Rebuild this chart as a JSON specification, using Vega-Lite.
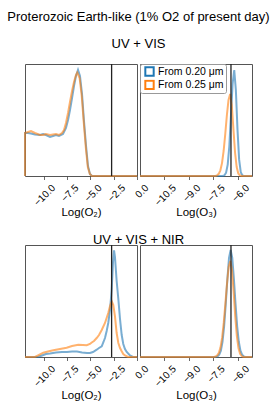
{
  "$schema": "https://vega.github.io/schema/vega-lite/v6.json",
  "background": "white",
  "padding": {"left": 7, "top": 10, "right": 5, "bottom": 2},
  "title": {"text": "Proterozoic Earth-like (1% O2 of present day)", "fontSize": 13, "font": "Liberation Sans", "fontWeight": "normal", "color": "#000", "anchor": "middle", "baseline": "alphabetic", "offset": 4},
  "datasets": {
    "curves": [
      {"panel": "A", "series": "From 0.20 μm", "i": 0, "x": -12.0, "y": 0},
      {"panel": "A", "series": "From 0.20 μm", "i": 1, "x": -12.0, "y": 43},
      {"panel": "A", "series": "From 0.20 μm", "i": 2, "x": -11.68, "y": 43},
      {"panel": "A", "series": "From 0.20 μm", "i": 3, "x": -11.36, "y": 42.5},
      {"panel": "A", "series": "From 0.20 μm", "i": 4, "x": -10.93, "y": 41.5},
      {"panel": "A", "series": "From 0.20 μm", "i": 5, "x": -10.39, "y": 41},
      {"panel": "A", "series": "From 0.20 μm", "i": 6, "x": -10.07, "y": 42},
      {"panel": "A", "series": "From 0.20 μm", "i": 7, "x": -9.75, "y": 41},
      {"panel": "A", "series": "From 0.20 μm", "i": 8, "x": -9.32, "y": 39},
      {"panel": "A", "series": "From 0.20 μm", "i": 9, "x": -9.0, "y": 40},
      {"panel": "A", "series": "From 0.20 μm", "i": 10, "x": -8.68, "y": 41},
      {"panel": "A", "series": "From 0.20 μm", "i": 11, "x": -8.36, "y": 40},
      {"panel": "A", "series": "From 0.20 μm", "i": 12, "x": -7.93, "y": 42},
      {"panel": "A", "series": "From 0.20 μm", "i": 13, "x": -7.61, "y": 48},
      {"panel": "A", "series": "From 0.20 μm", "i": 14, "x": -7.39, "y": 56},
      {"panel": "A", "series": "From 0.20 μm", "i": 15, "x": -7.18, "y": 66},
      {"panel": "A", "series": "From 0.20 μm", "i": 16, "x": -6.96, "y": 78},
      {"panel": "A", "series": "From 0.20 μm", "i": 17, "x": -6.75, "y": 90},
      {"panel": "A", "series": "From 0.20 μm", "i": 18, "x": -6.54, "y": 100},
      {"panel": "A", "series": "From 0.20 μm", "i": 19, "x": -6.32, "y": 106},
      {"panel": "A", "series": "From 0.20 μm", "i": 20, "x": -6.11, "y": 100},
      {"panel": "A", "series": "From 0.20 μm", "i": 21, "x": -5.89, "y": 82},
      {"panel": "A", "series": "From 0.20 μm", "i": 22, "x": -5.68, "y": 55},
      {"panel": "A", "series": "From 0.20 μm", "i": 23, "x": -5.46, "y": 30},
      {"panel": "A", "series": "From 0.20 μm", "i": 24, "x": -5.25, "y": 10},
      {"panel": "A", "series": "From 0.20 μm", "i": 25, "x": -5.04, "y": 2},
      {"panel": "A", "series": "From 0.20 μm", "i": 26, "x": -4.82, "y": 0},
      {"panel": "A", "series": "From 0.20 μm", "i": 27, "x": 0.0, "y": 0},
      {"panel": "A", "series": "From 0.25 μm", "i": 0, "x": -12.0, "y": 0},
      {"panel": "A", "series": "From 0.25 μm", "i": 1, "x": -12.0, "y": 43},
      {"panel": "A", "series": "From 0.25 μm", "i": 2, "x": -11.68, "y": 44},
      {"panel": "A", "series": "From 0.25 μm", "i": 3, "x": -11.36, "y": 45},
      {"panel": "A", "series": "From 0.25 μm", "i": 4, "x": -10.93, "y": 43},
      {"panel": "A", "series": "From 0.25 μm", "i": 5, "x": -10.39, "y": 41},
      {"panel": "A", "series": "From 0.25 μm", "i": 6, "x": -10.07, "y": 41},
      {"panel": "A", "series": "From 0.25 μm", "i": 7, "x": -9.75, "y": 42},
      {"panel": "A", "series": "From 0.25 μm", "i": 8, "x": -9.32, "y": 41},
      {"panel": "A", "series": "From 0.25 μm", "i": 9, "x": -9.0, "y": 41.5},
      {"panel": "A", "series": "From 0.25 μm", "i": 10, "x": -8.68, "y": 42},
      {"panel": "A", "series": "From 0.25 μm", "i": 11, "x": -8.36, "y": 41},
      {"panel": "A", "series": "From 0.25 μm", "i": 12, "x": -8.04, "y": 43},
      {"panel": "A", "series": "From 0.25 μm", "i": 13, "x": -7.82, "y": 46},
      {"panel": "A", "series": "From 0.25 μm", "i": 14, "x": -7.61, "y": 53},
      {"panel": "A", "series": "From 0.25 μm", "i": 15, "x": -7.39, "y": 63},
      {"panel": "A", "series": "From 0.25 μm", "i": 16, "x": -7.18, "y": 74},
      {"panel": "A", "series": "From 0.25 μm", "i": 17, "x": -6.96, "y": 85},
      {"panel": "A", "series": "From 0.25 μm", "i": 18, "x": -6.75, "y": 94},
      {"panel": "A", "series": "From 0.25 μm", "i": 19, "x": -6.54, "y": 101},
      {"panel": "A", "series": "From 0.25 μm", "i": 20, "x": -6.4, "y": 103.5},
      {"panel": "A", "series": "From 0.25 μm", "i": 21, "x": -6.15, "y": 98},
      {"panel": "A", "series": "From 0.25 μm", "i": 22, "x": -5.92, "y": 80},
      {"panel": "A", "series": "From 0.25 μm", "i": 23, "x": -5.7, "y": 53},
      {"panel": "A", "series": "From 0.25 μm", "i": 24, "x": -5.48, "y": 28},
      {"panel": "A", "series": "From 0.25 μm", "i": 25, "x": -5.27, "y": 9},
      {"panel": "A", "series": "From 0.25 μm", "i": 26, "x": -5.05, "y": 2},
      {"panel": "A", "series": "From 0.25 μm", "i": 27, "x": -4.84, "y": 0},
      {"panel": "A", "series": "From 0.25 μm", "i": 28, "x": 0.0, "y": 0},

      {"panel": "B", "series": "From 0.20 μm", "i": 0, "x": -12.0, "y": 0},
      {"panel": "B", "series": "From 0.20 μm", "i": 1, "x": -6.92, "y": 0},
      {"panel": "B", "series": "From 0.20 μm", "i": 2, "x": -6.82, "y": 0.7},
      {"panel": "B", "series": "From 0.20 μm", "i": 3, "x": -6.72, "y": 3.3},
      {"panel": "B", "series": "From 0.20 μm", "i": 4, "x": -6.62, "y": 11.4},
      {"panel": "B", "series": "From 0.20 μm", "i": 5, "x": -6.52, "y": 30},
      {"panel": "B", "series": "From 0.20 μm", "i": 6, "x": -6.42, "y": 61},
      {"panel": "B", "series": "From 0.20 μm", "i": 7, "x": -6.32, "y": 92},
      {"panel": "B", "series": "From 0.20 μm", "i": 8, "x": -6.22, "y": 106},
      {"panel": "B", "series": "From 0.20 μm", "i": 9, "x": -6.12, "y": 86},
      {"panel": "B", "series": "From 0.20 μm", "i": 10, "x": -6.02, "y": 46.6},
      {"panel": "B", "series": "From 0.20 μm", "i": 11, "x": -5.92, "y": 16.6},
      {"panel": "B", "series": "From 0.20 μm", "i": 12, "x": -5.82, "y": 3.9},
      {"panel": "B", "series": "From 0.20 μm", "i": 13, "x": -5.72, "y": 0.6},
      {"panel": "B", "series": "From 0.20 μm", "i": 14, "x": -5.62, "y": 0},
      {"panel": "B", "series": "From 0.20 μm", "i": 15, "x": -5.13, "y": 0},
      {"panel": "B", "series": "From 0.25 μm", "i": 0, "x": -12.0, "y": 0},
      {"panel": "B", "series": "From 0.25 μm", "i": 1, "x": -7.37, "y": 0},
      {"panel": "B", "series": "From 0.25 μm", "i": 2, "x": -7.27, "y": 0.7},
      {"panel": "B", "series": "From 0.25 μm", "i": 3, "x": -7.17, "y": 2.2},
      {"panel": "B", "series": "From 0.25 μm", "i": 4, "x": -7.07, "y": 5.7},
      {"panel": "B", "series": "From 0.25 μm", "i": 5, "x": -6.97, "y": 12.9},
      {"panel": "B", "series": "From 0.25 μm", "i": 6, "x": -6.87, "y": 25},
      {"panel": "B", "series": "From 0.25 μm", "i": 7, "x": -6.77, "y": 42},
      {"panel": "B", "series": "From 0.25 μm", "i": 8, "x": -6.67, "y": 61},
      {"panel": "B", "series": "From 0.25 μm", "i": 9, "x": -6.57, "y": 76},
      {"panel": "B", "series": "From 0.25 μm", "i": 10, "x": -6.47, "y": 82},
      {"panel": "B", "series": "From 0.25 μm", "i": 11, "x": -6.37, "y": 71},
      {"panel": "B", "series": "From 0.25 μm", "i": 12, "x": -6.27, "y": 47},
      {"panel": "B", "series": "From 0.25 μm", "i": 13, "x": -6.17, "y": 23.5},
      {"panel": "B", "series": "From 0.25 μm", "i": 14, "x": -6.07, "y": 8.9},
      {"panel": "B", "series": "From 0.25 μm", "i": 15, "x": -5.97, "y": 2.5},
      {"panel": "B", "series": "From 0.25 μm", "i": 16, "x": -5.87, "y": 0.5},
      {"panel": "B", "series": "From 0.25 μm", "i": 17, "x": -5.77, "y": 0},
      {"panel": "B", "series": "From 0.25 μm", "i": 18, "x": -5.13, "y": 0},

      {"panel": "C", "series": "From 0.20 μm", "i": 0, "x": -12.0, "y": 0},
      {"panel": "C", "series": "From 0.20 μm", "i": 1, "x": -10.61, "y": 0},
      {"panel": "C", "series": "From 0.20 μm", "i": 2, "x": -10.18, "y": 1.5},
      {"panel": "C", "series": "From 0.20 μm", "i": 3, "x": -9.75, "y": 3},
      {"panel": "C", "series": "From 0.20 μm", "i": 4, "x": -9.32, "y": 3.5},
      {"panel": "C", "series": "From 0.20 μm", "i": 5, "x": -8.68, "y": 4.5},
      {"panel": "C", "series": "From 0.20 μm", "i": 6, "x": -8.04, "y": 5},
      {"panel": "C", "series": "From 0.20 μm", "i": 7, "x": -7.5, "y": 5},
      {"panel": "C", "series": "From 0.20 μm", "i": 8, "x": -6.96, "y": 5.5},
      {"panel": "C", "series": "From 0.20 μm", "i": 9, "x": -6.43, "y": 5.5},
      {"panel": "C", "series": "From 0.20 μm", "i": 10, "x": -5.89, "y": 4.5},
      {"panel": "C", "series": "From 0.20 μm", "i": 11, "x": -5.36, "y": 4},
      {"panel": "C", "series": "From 0.20 μm", "i": 12, "x": -5.04, "y": 4},
      {"panel": "C", "series": "From 0.20 μm", "i": 13, "x": -4.71, "y": 5},
      {"panel": "C", "series": "From 0.20 μm", "i": 14, "x": -4.32, "y": 7.3},
      {"panel": "C", "series": "From 0.20 μm", "i": 15, "x": -4.07, "y": 9},
      {"panel": "C", "series": "From 0.20 μm", "i": 16, "x": -3.78, "y": 10.7},
      {"panel": "C", "series": "From 0.20 μm", "i": 17, "x": -3.59, "y": 15},
      {"panel": "C", "series": "From 0.20 μm", "i": 18, "x": -3.43, "y": 19},
      {"panel": "C", "series": "From 0.20 μm", "i": 19, "x": -3.25, "y": 26},
      {"panel": "C", "series": "From 0.20 μm", "i": 20, "x": -3.08, "y": 34},
      {"panel": "C", "series": "From 0.20 μm", "i": 21, "x": -2.89, "y": 47},
      {"panel": "C", "series": "From 0.20 μm", "i": 22, "x": -2.71, "y": 68},
      {"panel": "C", "series": "From 0.20 μm", "i": 23, "x": -2.57, "y": 95},
      {"panel": "C", "series": "From 0.20 μm", "i": 24, "x": -2.46, "y": 106.7},
      {"panel": "C", "series": "From 0.20 μm", "i": 25, "x": -2.36, "y": 100},
      {"panel": "C", "series": "From 0.20 μm", "i": 26, "x": -2.18, "y": 76},
      {"panel": "C", "series": "From 0.20 μm", "i": 27, "x": -2.0, "y": 58},
      {"panel": "C", "series": "From 0.20 μm", "i": 28, "x": -1.82, "y": 38},
      {"panel": "C", "series": "From 0.20 μm", "i": 29, "x": -1.64, "y": 22},
      {"panel": "C", "series": "From 0.20 μm", "i": 30, "x": -1.47, "y": 13},
      {"panel": "C", "series": "From 0.20 μm", "i": 31, "x": -1.29, "y": 8},
      {"panel": "C", "series": "From 0.20 μm", "i": 32, "x": -1.1, "y": 5},
      {"panel": "C", "series": "From 0.20 μm", "i": 33, "x": -0.75, "y": 1.5},
      {"panel": "C", "series": "From 0.20 μm", "i": 34, "x": -0.43, "y": 0},
      {"panel": "C", "series": "From 0.20 μm", "i": 35, "x": 0.0, "y": 0},
      {"panel": "C", "series": "From 0.25 μm", "i": 0, "x": -12.0, "y": 0},
      {"panel": "C", "series": "From 0.25 μm", "i": 1, "x": -10.93, "y": 0},
      {"panel": "C", "series": "From 0.25 μm", "i": 2, "x": -10.61, "y": 1.5},
      {"panel": "C", "series": "From 0.25 μm", "i": 3, "x": -10.04, "y": 4.3},
      {"panel": "C", "series": "From 0.25 μm", "i": 4, "x": -9.54, "y": 5.5},
      {"panel": "C", "series": "From 0.25 μm", "i": 5, "x": -8.97, "y": 6.7},
      {"panel": "C", "series": "From 0.25 μm", "i": 6, "x": -8.25, "y": 8},
      {"panel": "C", "series": "From 0.25 μm", "i": 7, "x": -7.54, "y": 9.3},
      {"panel": "C", "series": "From 0.25 μm", "i": 8, "x": -6.96, "y": 11},
      {"panel": "C", "series": "From 0.25 μm", "i": 9, "x": -6.29, "y": 12.3},
      {"panel": "C", "series": "From 0.25 μm", "i": 10, "x": -5.79, "y": 12},
      {"panel": "C", "series": "From 0.25 μm", "i": 11, "x": -5.39, "y": 11.7},
      {"panel": "C", "series": "From 0.25 μm", "i": 12, "x": -5.04, "y": 13},
      {"panel": "C", "series": "From 0.25 μm", "i": 13, "x": -4.85, "y": 14.5},
      {"panel": "C", "series": "From 0.25 μm", "i": 14, "x": -4.61, "y": 16},
      {"panel": "C", "series": "From 0.25 μm", "i": 15, "x": -4.32, "y": 19},
      {"panel": "C", "series": "From 0.25 μm", "i": 16, "x": -4.07, "y": 22},
      {"panel": "C", "series": "From 0.25 μm", "i": 17, "x": -3.78, "y": 27},
      {"panel": "C", "series": "From 0.25 μm", "i": 18, "x": -3.43, "y": 34},
      {"panel": "C", "series": "From 0.25 μm", "i": 19, "x": -3.08, "y": 44},
      {"panel": "C", "series": "From 0.25 μm", "i": 20, "x": -2.89, "y": 51},
      {"panel": "C", "series": "From 0.25 μm", "i": 21, "x": -2.71, "y": 55.7},
      {"panel": "C", "series": "From 0.25 μm", "i": 22, "x": -2.54, "y": 52},
      {"panel": "C", "series": "From 0.25 μm", "i": 23, "x": -2.36, "y": 40.7},
      {"panel": "C", "series": "From 0.25 μm", "i": 24, "x": -2.18, "y": 24},
      {"panel": "C", "series": "From 0.25 μm", "i": 25, "x": -2.0, "y": 14},
      {"panel": "C", "series": "From 0.25 μm", "i": 26, "x": -1.82, "y": 9},
      {"panel": "C", "series": "From 0.25 μm", "i": 27, "x": -1.64, "y": 5.7},
      {"panel": "C", "series": "From 0.25 μm", "i": 28, "x": -1.47, "y": 3},
      {"panel": "C", "series": "From 0.25 μm", "i": 29, "x": -1.29, "y": 1.5},
      {"panel": "C", "series": "From 0.25 μm", "i": 30, "x": -0.96, "y": 0},
      {"panel": "C", "series": "From 0.25 μm", "i": 31, "x": 0.0, "y": 0},

      {"panel": "D", "series": "From 0.20 μm", "i": 0, "x": -12.0, "y": 0},
      {"panel": "D", "series": "From 0.20 μm", "i": 1, "x": -7.34, "y": 0},
      {"panel": "D", "series": "From 0.20 μm", "i": 2, "x": -7.24, "y": 0.7},
      {"panel": "D", "series": "From 0.20 μm", "i": 3, "x": -7.14, "y": 2.3},
      {"panel": "D", "series": "From 0.20 μm", "i": 4, "x": -7.04, "y": 6.4},
      {"panel": "D", "series": "From 0.20 μm", "i": 5, "x": -6.94, "y": 15.2},
      {"panel": "D", "series": "From 0.20 μm", "i": 6, "x": -6.84, "y": 30.7},
      {"panel": "D", "series": "From 0.20 μm", "i": 7, "x": -6.74, "y": 53},
      {"panel": "D", "series": "From 0.20 μm", "i": 8, "x": -6.64, "y": 78},
      {"panel": "D", "series": "From 0.20 μm", "i": 9, "x": -6.54, "y": 99},
      {"panel": "D", "series": "From 0.20 μm", "i": 10, "x": -6.44, "y": 107},
      {"panel": "D", "series": "From 0.20 μm", "i": 11, "x": -6.34, "y": 99},
      {"panel": "D", "series": "From 0.20 μm", "i": 12, "x": -6.24, "y": 78},
      {"panel": "D", "series": "From 0.20 μm", "i": 13, "x": -6.14, "y": 53},
      {"panel": "D", "series": "From 0.20 μm", "i": 14, "x": -6.04, "y": 30.7},
      {"panel": "D", "series": "From 0.20 μm", "i": 15, "x": -5.94, "y": 15.2},
      {"panel": "D", "series": "From 0.20 μm", "i": 16, "x": -5.84, "y": 6.4},
      {"panel": "D", "series": "From 0.20 μm", "i": 17, "x": -5.74, "y": 2.3},
      {"panel": "D", "series": "From 0.20 μm", "i": 18, "x": -5.64, "y": 0.7},
      {"panel": "D", "series": "From 0.20 μm", "i": 19, "x": -5.54, "y": 0},
      {"panel": "D", "series": "From 0.20 μm", "i": 20, "x": -5.13, "y": 0},
      {"panel": "D", "series": "From 0.25 μm", "i": 0, "x": -12.0, "y": 0},
      {"panel": "D", "series": "From 0.25 μm", "i": 1, "x": -7.46, "y": 0},
      {"panel": "D", "series": "From 0.25 μm", "i": 2, "x": -7.36, "y": 0.5},
      {"panel": "D", "series": "From 0.25 μm", "i": 3, "x": -7.26, "y": 1.6},
      {"panel": "D", "series": "From 0.25 μm", "i": 4, "x": -7.16, "y": 4.2},
      {"panel": "D", "series": "From 0.25 μm", "i": 5, "x": -7.06, "y": 9.7},
      {"panel": "D", "series": "From 0.25 μm", "i": 6, "x": -6.96, "y": 19.6},
      {"panel": "D", "series": "From 0.25 μm", "i": 7, "x": -6.86, "y": 34.6},
      {"panel": "D", "series": "From 0.25 μm", "i": 8, "x": -6.76, "y": 54},
      {"panel": "D", "series": "From 0.25 μm", "i": 9, "x": -6.66, "y": 74},
      {"panel": "D", "series": "From 0.25 μm", "i": 10, "x": -6.56, "y": 90},
      {"panel": "D", "series": "From 0.25 μm", "i": 11, "x": -6.46, "y": 96},
      {"panel": "D", "series": "From 0.25 μm", "i": 12, "x": -6.36, "y": 87},
      {"panel": "D", "series": "From 0.25 μm", "i": 13, "x": -6.26, "y": 66},
      {"panel": "D", "series": "From 0.25 μm", "i": 14, "x": -6.16, "y": 41},
      {"panel": "D", "series": "From 0.25 μm", "i": 15, "x": -6.06, "y": 21},
      {"panel": "D", "series": "From 0.25 μm", "i": 16, "x": -5.96, "y": 9},
      {"panel": "D", "series": "From 0.25 μm", "i": 17, "x": -5.86, "y": 3.2},
      {"panel": "D", "series": "From 0.25 μm", "i": 18, "x": -5.76, "y": 0.9},
      {"panel": "D", "series": "From 0.25 μm", "i": 19, "x": -5.66, "y": 0},
      {"panel": "D", "series": "From 0.25 μm", "i": 20, "x": -5.13, "y": 0}
    ],
    "truths": [
      {"panel": "A", "truth": -2.72},
      {"panel": "B", "truth": -6.42},
      {"panel": "C", "truth": -2.72},
      {"panel": "D", "truth": -6.42}
    ]
  },
  "vconcat": [
    {
      "title": {"text": "UV + VIS", "fontSize": 13, "font": "Liberation Sans", "fontWeight": "normal", "color": "#000", "anchor": "middle", "baseline": "alphabetic", "offset": 2},
      "spacing": 3,
      "bounds": "flush",
      "resolve": {"scale": {"color": "independent"}, "legend": {"color": "independent"}},
      "hconcat": [
        {
          "width": 112, "height": 112,
          "layer": [
            {"data": {"name": "curves"}, "transform": [{"filter": "datum.panel === 'A'"}],
             "mark": {"type": "line", "strokeWidth": 2, "opacity": 0.6},
             "encoding": {
               "x": {"field": "x", "type": "quantitative", "scale": {"domain": [-12, 0], "nice": false, "zero": false}, "axis": {"title": "Log(O₂)", "values": [-10, -7.5, -5, -2.5, 0], "tickCount": 20, "labelOverlap": false, "labelAngle": -45, "labelAlign": "right", "labelBaseline": "top", "labelOffset": 6, "labelPadding": 3, "format": ".1f", "titlePadding": -1}},
               "y": {"field": "y", "type": "quantitative", "scale": {"domain": [0, 112], "nice": false}, "axis": null},
               "color": {"field": "series", "type": "nominal", "scale": {"domain": ["From 0.20 μm", "From 0.25 μm"], "range": ["#1f77b4", "#ff7f0e"]}, "legend": null},
               "order": {"field": "i", "type": "quantitative"}
             }},
            {"data": {"name": "truths"}, "transform": [{"filter": "datum.panel === 'A'"}],
             "mark": {"type": "rule", "color": "#222", "strokeWidth": 1.3},
             "encoding": {"x": {"field": "truth", "type": "quantitative"}}}
          ]
        },
        {
          "width": 112, "height": 112,
          "layer": [
            {"data": {"name": "curves"}, "transform": [{"filter": "datum.panel === 'B'"}],
             "mark": {"type": "line", "strokeWidth": 2, "opacity": 0.6},
             "encoding": {
               "x": {"field": "x", "type": "quantitative", "scale": {"domain": [-12, -5.13], "nice": false, "zero": false}, "axis": {"title": "Log(O₃)", "values": [-10.5, -9, -7.5, -6], "tickCount": 20, "labelOverlap": false, "labelAngle": -45, "labelAlign": "right", "labelBaseline": "top", "labelOffset": 6, "labelPadding": 3, "format": ".1f", "titlePadding": -1}},
               "y": {"field": "y", "type": "quantitative", "scale": {"domain": [0, 112], "nice": false}, "axis": null},
               "color": {"field": "series", "type": "nominal", "scale": {"domain": ["From 0.20 μm", "From 0.25 μm"], "range": ["#1f77b4", "#ff7f0e"]},
                 "legend": {"orient": "top-left", "title": null, "offset": 0, "padding": 2, "strokeColor": "#999", "fillColor": "white", "cornerRadius": 2, "symbolType": "square", "symbolSize": 70, "symbolStrokeWidth": 2, "symbolOpacity": 1, "symbolFillColor": "white", "symbolOffset": 2, "labelFontSize": 10.5, "labelFont": "Liberation Sans", "labelColor": "#000", "clipHeight": 11, "rowPadding": 2.4, "labelOffset": 3}},
               "order": {"field": "i", "type": "quantitative"}
             }},
            {"data": {"name": "truths"}, "transform": [{"filter": "datum.panel === 'B'"}],
             "mark": {"type": "rule", "color": "#222", "strokeWidth": 1.3},
             "encoding": {"x": {"field": "truth", "type": "quantitative"}}}
          ]
        }
      ]
    },
    {
      "title": {"text": "UV + VIS + NIR", "fontSize": 13, "font": "Liberation Sans", "fontWeight": "normal", "color": "#000", "anchor": "middle", "baseline": "alphabetic", "offset": -13},
      "spacing": 3,
      "bounds": "flush",
      "resolve": {"scale": {"color": "independent"}, "legend": {"color": "independent"}},
      "hconcat": [
        {
          "width": 112, "height": 112,
          "layer": [
            {"data": {"name": "curves"}, "transform": [{"filter": "datum.panel === 'C'"}],
             "mark": {"type": "line", "strokeWidth": 2, "opacity": 0.6},
             "encoding": {
               "x": {"field": "x", "type": "quantitative", "scale": {"domain": [-12, 0], "nice": false, "zero": false}, "axis": {"title": "Log(O₂)", "values": [-10, -7.5, -5, -2.5, 0], "tickCount": 20, "labelOverlap": false, "labelAngle": -45, "labelAlign": "right", "labelBaseline": "top", "labelOffset": 6, "labelPadding": 3, "format": ".1f", "titlePadding": 1}},
               "y": {"field": "y", "type": "quantitative", "scale": {"domain": [0, 112], "nice": false}, "axis": null},
               "color": {"field": "series", "type": "nominal", "scale": {"domain": ["From 0.20 μm", "From 0.25 μm"], "range": ["#1f77b4", "#ff7f0e"]}, "legend": null},
               "order": {"field": "i", "type": "quantitative"}
             }},
            {"data": {"name": "truths"}, "transform": [{"filter": "datum.panel === 'C'"}],
             "mark": {"type": "rule", "color": "#222", "strokeWidth": 1.3},
             "encoding": {"x": {"field": "truth", "type": "quantitative"}}}
          ]
        },
        {
          "width": 112, "height": 112,
          "layer": [
            {"data": {"name": "curves"}, "transform": [{"filter": "datum.panel === 'D'"}],
             "mark": {"type": "line", "strokeWidth": 2, "opacity": 0.6},
             "encoding": {
               "x": {"field": "x", "type": "quantitative", "scale": {"domain": [-12, -5.13], "nice": false, "zero": false}, "axis": {"title": "Log(O₃)", "values": [-10.5, -9, -7.5, -6], "tickCount": 20, "labelOverlap": false, "labelAngle": -45, "labelAlign": "right", "labelBaseline": "top", "labelOffset": 6, "labelPadding": 3, "format": ".1f", "titlePadding": 1}},
               "y": {"field": "y", "type": "quantitative", "scale": {"domain": [0, 112], "nice": false}, "axis": null},
               "color": {"field": "series", "type": "nominal", "scale": {"domain": ["From 0.20 μm", "From 0.25 μm"], "range": ["#1f77b4", "#ff7f0e"]}, "legend": null},
               "order": {"field": "i", "type": "quantitative"}
             }},
            {"data": {"name": "truths"}, "transform": [{"filter": "datum.panel === 'D'"}],
             "mark": {"type": "rule", "color": "#222", "strokeWidth": 1.3},
             "encoding": {"x": {"field": "truth", "type": "quantitative"}}}
          ]
        }
      ]
    }
  ],
  "spacing": 14,
  "bounds": "full",
  "resolve": {"scale": {"color": "independent"}, "legend": {"color": "independent"}},
  "config": {
    "font": "Liberation Sans",
    "view": {"stroke": "#555", "strokeWidth": 1},
    "axis": {
      "domain": false, "grid": false,
      "labelFont": "Liberation Sans", "labelFontSize": 10, "labelColor": "#000",
      "labelFlush": false, "labelBound": false,
      "tickColor": "#444", "tickSize": 3.5, "tickWidth": 0.8,
      "titleFont": "Liberation Sans", "titleFontSize": 11.5, "titleFontWeight": "normal", "titleColor": "#000"
    }
  }
}
